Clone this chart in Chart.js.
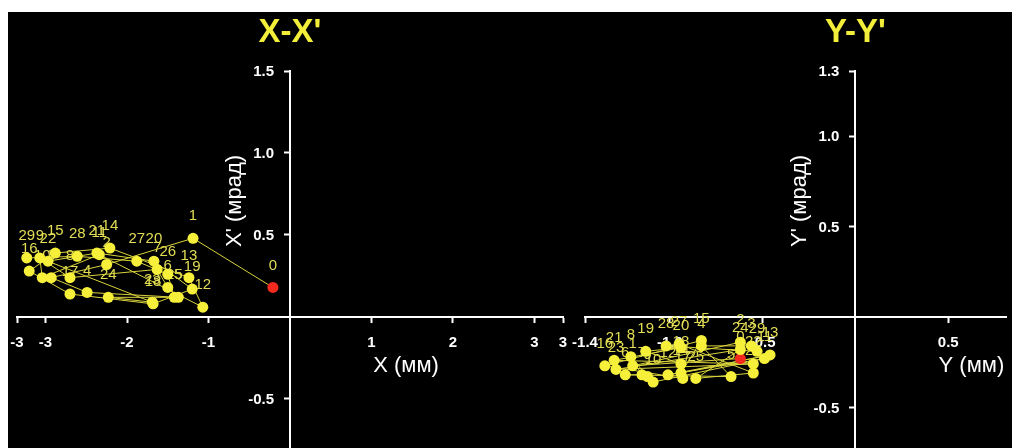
<!DOCTYPE html>
<html>
<head>
<meta charset="utf-8">
<script src="https://cdn.jsdelivr.net/npm/chart.js@4.4.1/dist/chart.umd.min.js"></script>
<style>
  body { margin: 0; background: #fff; }
  #wrap { position: absolute; left: 8px; top: 12px; width: 1004px; height: 436px; background: #000; overflow: hidden; }
  canvas { position: absolute; top: 0; }
  #chartX { left: 0; }
  #chartY { left: 552px; }
</style>
</head>
<body>
<div id="wrap">
  <canvas id="chartX" width="570" height="443"></canvas>
  <canvas id="chartY" width="452" height="443"></canvas>
</div>
<script>
// horizontal phase space, points 0..29 (X in mm, X' in mrad)
var xPos  = [-0.21, -1.19, -2.25, -2.93, -2.49, -1.37, -1.50, -1.63, -2.70, -3.07,
             -3.04, -2.34, -1.07, -1.24, -2.21, -2.88, -3.20, -2.70, -1.68, -1.20,
             -1.67, -2.37, -2.97, -1.69, -2.23, -1.42, -1.50, -1.88, -2.61, -3.23];
var xAng  = [ 0.18,  0.48,  0.32,  0.24,  0.15,  0.12,  0.18,  0.29,  0.24,  0.36,
              0.24,  0.38,  0.06,  0.24,  0.42,  0.39,  0.28,  0.14,  0.08,  0.17,
              0.34,  0.39,  0.34,  0.09,  0.12,  0.12,  0.26,  0.34,  0.37,  0.36];

// vertical phase space, points 0..29 (Y in mm, Y' in mrad)
var yPos  = [-0.62, -1.20, -0.62, -0.56, -0.83, -0.67, -1.24, -1.15, -1.21, -1.12,
             -1.09, -0.49, -1.01, -0.46, -0.94, -0.83, -1.35, -0.93, -0.94, -1.13,
             -0.94, -1.30, -0.55, -1.29, -0.62, -0.86, -0.55, -0.95, -1.02, -0.53];
var yAng  = [-0.23, -0.27, -0.14, -0.16, -0.16, -0.33, -0.32, -0.32, -0.22, -0.33,
             -0.36, -0.23, -0.32, -0.21, -0.31, -0.13, -0.27, -0.34, -0.26, -0.19,
             -0.17, -0.24, -0.26, -0.29, -0.18, -0.34, -0.31, -0.15, -0.16, -0.19];

// axis ranges and tick values
var xRange = [-3.35, 3.35],  xAngRange = [-0.808, 1.5];
var yRange = [-1.457, 0.814], yAngRange = [-0.733, 1.36];
var xTicks = [-3.35, -3, -2, -1, 1, 2, 3, 3.35];
var xAngTicks = [-0.5, 0.5, 1.0, 1.5];
var yTicks = [-1.457, -1.0, -0.5, 0.5];
var yAngTicks = [-0.5, 0.5, 1.0, 1.36];

const FONT = '"Liberation Sans", Arial, sans-serif';

function trunc(v, d) {
  var f = Math.pow(10, d);
  return (Math.trunc(v * f + (v < 0 ? -1e-9 : 1e-9)) / f).toFixed(d);
}

// numbers next to points, y tick labels, plot title and axis titles
const phaseText = {
  id: 'phaseText',
  beforeDatasetsDraw(chart) {
    const ctx = chart.ctx;
    const ys = chart.scales.y;
    const ax = chart.scales.x.getPixelForValue(0);
    ctx.save();
    // y tick labels sit left of the centred axis
    ctx.font = 'bold 15px ' + FONT;
    ctx.fillStyle = '#fff';
    ctx.textAlign = 'right';
    ctx.textBaseline = 'middle';
    ys.ticks.forEach(t => ctx.fillText(t.label, ax - 16, ys.getPixelForValue(t.value) + 1));
    // point numbers
    const meta = chart.getDatasetMeta(0);
    ctx.font = '15px ' + FONT;
    ctx.fillStyle = '#e2dd55';
    ctx.textAlign = 'center';
    meta.data.forEach((p, i) => ctx.fillText(String(i), p.x, p.y - 22));
    ctx.restore();
  },
  afterDraw(chart, args, opts) {
    const ctx = chart.ctx;
    const ax = chart.scales.x.getPixelForValue(0);
    const ay = chart.scales.y.getPixelForValue(0);
    ctx.save();
    ctx.textAlign = 'center';
    ctx.textBaseline = 'middle';
    ctx.fillStyle = '#f2ee3a';
    ctx.font = 'bold 33px ' + FONT;
    ctx.fillText(opts.title, ax, 21);
    ctx.fillStyle = '#fff';
    ctx.font = '22px ' + FONT;
    ctx.fillText(opts.xTitle, ax + 116, ay + 49);
    ctx.translate(ax - 55, ay - 116);
    ctx.rotate(-Math.PI / 2);
    ctx.fillText(opts.yTitle, 0, 0);
    ctx.restore();
  }
};

function axis(range, ticks, decimals, where, showLabels) {
  return {
    type: 'linear',
    min: range[0],
    max: range[1],
    position: where,
    afterBuildTicks: s => { s.ticks = ticks.map(v => ({ value: v })); },
    afterFit: s => { s.paddingLeft = s.paddingRight = s.paddingTop = s.paddingBottom = 0; },
    border: { color: '#fff', width: 2 },
    grid: { drawOnChartArea: false, drawTicks: true, tickLength: 5, tickWidth: 2, tickColor: '#fff', color: '#fff' },
    ticks: {
      display: showLabels,
      color: '#fff',
      padding: 12,
      autoSkip: false,
      maxRotation: 0,
      font: { family: FONT, size: 15, weight: 'bold' },
      callback: v => trunc(v, decimals)
    }
  };
}

function phaseChart(id, xs, ys, xr, yr, xt, yt, xd, padL, padR, texts) {
  const pts = xs.map((v, i) => ({ x: v, y: ys[i] }));
  return new Chart(document.getElementById(id), {
    type: 'scatter',
    data: {
      datasets: [{
        data: pts,
        showLine: true,
        borderColor: '#d9d33c',
        borderWidth: 1,
        pointRadius: 5.5,
        pointHoverRadius: 5.5,
        pointBorderWidth: 0,
        pointBackgroundColor: pts.map((p, i) => i === 0 ? '#f52a1e' : '#f6f03a'),
        pointBorderColor: pts.map((p, i) => i === 0 ? '#f52a1e' : '#f6f03a')
      }]
    },
    options: {
      responsive: false,
      animation: false,
      layout: { padding: { left: padL, right: padR, top: 59, bottom: 0 } },
      scales: {
        x: axis(xr, xt, xd, { y: 0 }, true),
        y: axis(yr, yt, 1, { x: 0 }, false)
      },
      plugins: {
        legend: { display: false },
        tooltip: { enabled: false },
        phaseText: texts
      }
    },
    plugins: [phaseText]
  });
}

phaseChart('chartX', xPos, xAng, xRange, xAngRange, xTicks, xAngTicks, 0, 9, 15,
  { title: "X-X'", xTitle: 'X (мм)', yTitle: "X' (мрад)" });
phaseChart('chartY', yPos, yAng, yRange, yAngRange, yTicks, yAngTicks, 1, 25, 0,
  { title: "Y-Y'", xTitle: 'Y (мм)', yTitle: "Y' (мрад)" });
</script>
</body>
</html>
